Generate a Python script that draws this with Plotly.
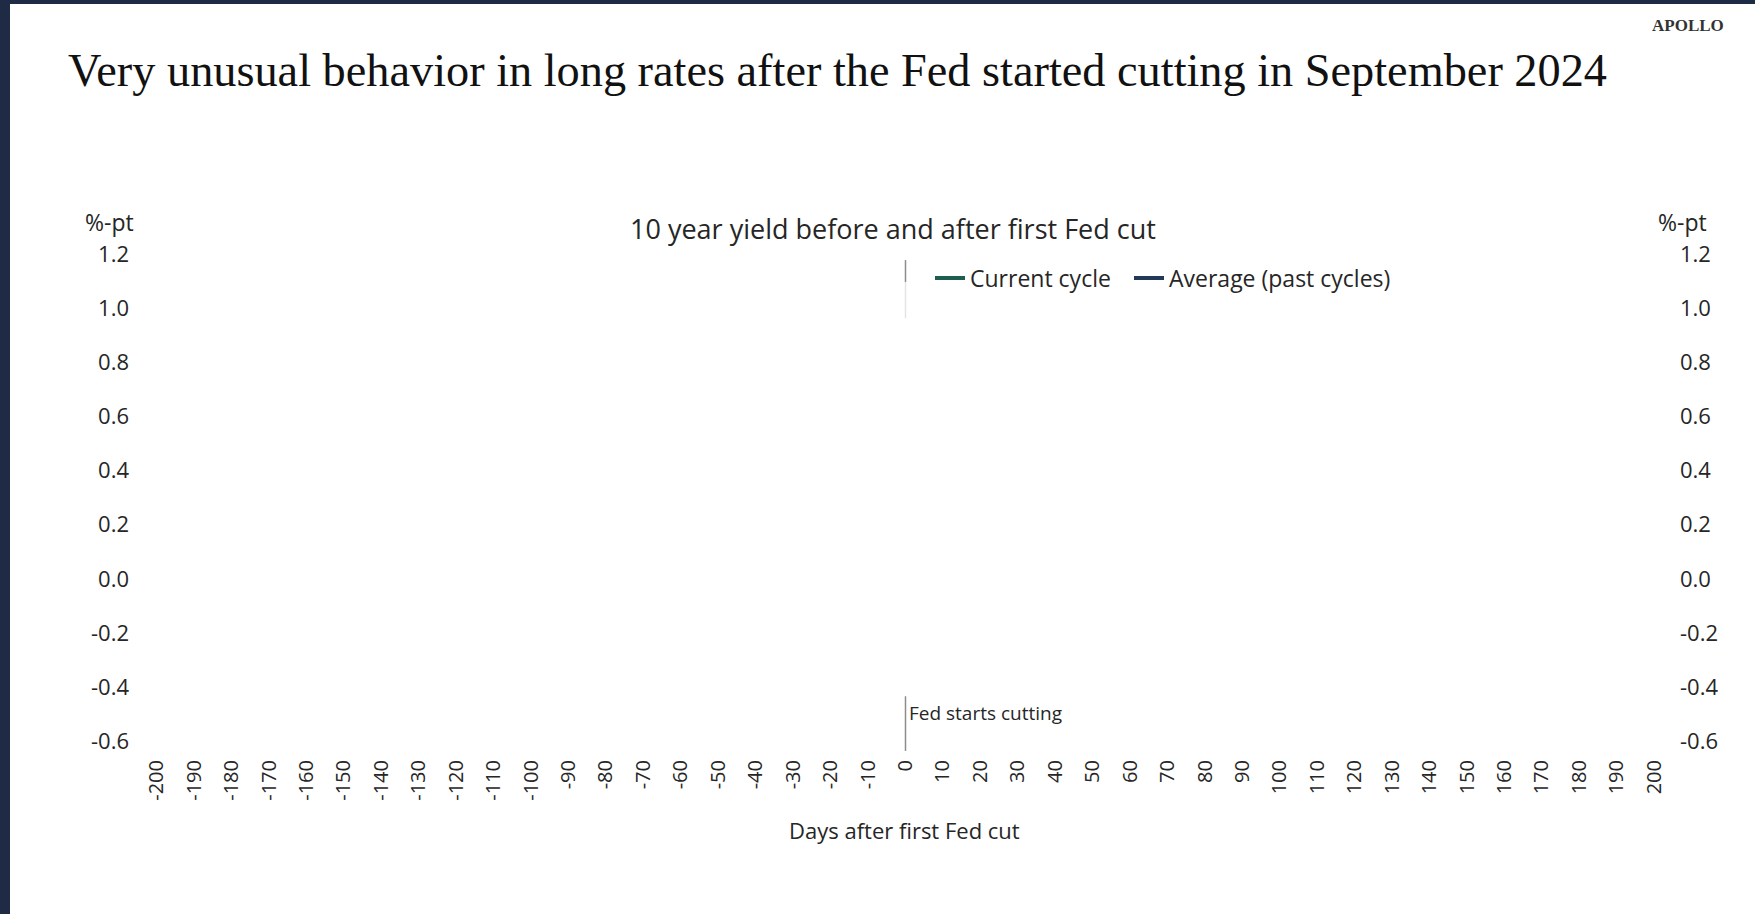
import plotly.graph_objects as go

# ---- data -------------------------------------------------------------
# Days relative to the first Fed cut (x-axis ticks)
day_ticks = [-200, -190, -180, -170, -160, -150, -140, -130, -120, -110, -100,
             -90, -80, -70, -60, -50, -40, -30, -20, -10, 0,
             10, 20, 30, 40, 50, 60, 70, 80, 90, 100,
             110, 120, 130, 140, 150, 160, 170, 180, 190, 200]
day_tick_text = [str(d) for d in day_ticks]

# Change in the 10y yield (%-pt); no observations are plotted for either series
current_cycle_days = []
current_cycle = []
average_days = []
average_past_cycles = []

# Y-axis ticks (%-pt)
yield_ticks = [-0.6, -0.4, -0.2, 0.0, 0.2, 0.4, 0.6, 0.8, 1.0, 1.2]
yield_tick_text = [f"{v:.1f}" for v in yield_ticks]

# ---- layout geometry ---------------------------------------------------
W, H = 1755, 914
ML, MR, MT, MB = 138, 82, 249, 162
PW, PH = W - ML - MR, H - MT - MB
Y_RANGE = [-0.64, 1.219]


def px_x(px):
    return (px - ML) / PW


def px_y(py):
    return (H - MB - py) / PH


SANS = "Open Sans"
SERIF = "Liberation Serif"
TEXT = "#262626"
NAVY = "#1f2a44"
TEAL = "#1d5e50"
DARK_BLUE = "#22395a"


def xy_or_blank(xs, ys):
    # keep the legend entry even when a series has no points
    return (xs, ys) if len(ys) else ([None], [None])


fig = go.Figure()
cx, cy = xy_or_blank(current_cycle_days, current_cycle)
ax, ay = xy_or_blank(average_days, average_past_cycles)
fig.add_trace(go.Scatter(x=cx, y=cy, mode="lines", name="Current cycle",
                         legendwidth=154,
                         line=dict(color=TEAL, width=4)))
fig.add_trace(go.Scatter(x=ax, y=ay, mode="lines", name="Average (past cycles)",
                         legendwidth=250,
                         line=dict(color=DARK_BLUE, width=4)))
# carrier for the right-hand axis
fig.add_trace(go.Scatter(x=[None], y=[None], yaxis="y2", mode="lines",
                         showlegend=False, hoverinfo="skip"))

# Fed-cut marker at day 0
fig.add_shape(type="line", xref="x", yref="y", x0=0, x1=0, y0=1.178, y1=1.097,
              line=dict(color="#8c8c8c", width=1.5))
fig.add_shape(type="line", xref="x", yref="y", x0=0, x1=0, y0=1.097, y1=0.963,
              line=dict(color="#e4e4e4", width=1.5))
fig.add_shape(type="line", xref="x", yref="y", x0=0, x1=0, y0=-0.434, y1=-0.636,
              line=dict(color="#8c8c8c", width=1.5))

# frame bands on the left and top edges
fig.add_shape(type="rect", xref="paper", yref="paper", layer="above",
              x0=px_x(0), x1=px_x(10), y0=px_y(H), y1=px_y(0),
              fillcolor=NAVY, line=dict(width=0))
fig.add_shape(type="rect", xref="paper", yref="paper", layer="above",
              x0=px_x(0), x1=px_x(W), y0=px_y(4), y1=px_y(0),
              fillcolor=NAVY, line=dict(width=0))

annotations = [
    dict(text="Very unusual behavior in long rates after the Fed started cutting in September 2024",
         x=px_x(66), y=px_y(70), xanchor="left", yanchor="middle",
         font=dict(family=SERIF, size=46.3, color="#111111")),
    dict(text="<b>APOLLO</b>", x=px_x(1688), y=px_y(25), xanchor="center", yanchor="middle",
         font=dict(family=SERIF, size=17, color="#333333")),
    dict(text="10 year yield before and after first Fed cut",
         x=px_x(893), y=px_y(228), xanchor="center", yanchor="middle",
         font=dict(family=SANS, size=27, color=TEXT)),
    dict(text="%-pt", x=px_x(109), y=px_y(222), xanchor="center", yanchor="middle",
         font=dict(family=SANS, size=23, color=TEXT)),
    dict(text="%-pt", x=px_x(1682), y=px_y(222), xanchor="center", yanchor="middle",
         font=dict(family=SANS, size=23, color=TEXT)),
    dict(text="Fed starts cutting", x=0, y=-0.42, xref="x", yref="y",
         xanchor="left", yanchor="middle", xshift=1, yshift=-21,
         font=dict(family=SANS, size=19, color=TEXT)),
    dict(text="Days after first Fed cut", x=px_x(904), y=px_y(830),
         xanchor="center", yanchor="middle",
         font=dict(family=SANS, size=22, color=TEXT)),
]
for a in annotations:
    a.setdefault("xref", "paper")
    a.setdefault("yref", "paper")
    a["showarrow"] = False

fig.update_layout(
    width=W, height=H,
    margin=dict(l=ML, r=MR, t=MT, b=MB, pad=0),
    paper_bgcolor="white", plot_bgcolor="white",
    font=dict(family=SANS, color=TEXT),
    annotations=annotations,
    showlegend=True,
    legend=dict(orientation="h", x=px_x(930), y=px_y(278),
                xanchor="left", yanchor="middle",
                bgcolor="rgba(0,0,0,0)", font=dict(family=SANS, size=23, color=TEXT),
                itemwidth=30),
    xaxis=dict(range=[-205, 205], tickvals=day_ticks, ticktext=day_tick_text,
               tickangle=-90, showgrid=False, zeroline=False, showline=False,
               ticks="", ticklabelstandoff=3,
               tickfont=dict(family=SANS, size=20, color=TEXT)),
    yaxis=dict(range=Y_RANGE, tickvals=yield_ticks, ticktext=yield_tick_text,
               showgrid=False, zeroline=False, showline=False, ticks="",
               ticklabelstandoff=8,
               tickfont=dict(family=SANS, size=22, color=TEXT)),
    yaxis2=dict(range=Y_RANGE, tickvals=yield_ticks, ticktext=yield_tick_text,
                overlaying="y", side="right", showgrid=False, zeroline=False,
                showline=False, ticks="", ticklabelstandoff=6,
                tickfont=dict(family=SANS, size=22, color=TEXT)),
)

fig.write_html("out.html")
